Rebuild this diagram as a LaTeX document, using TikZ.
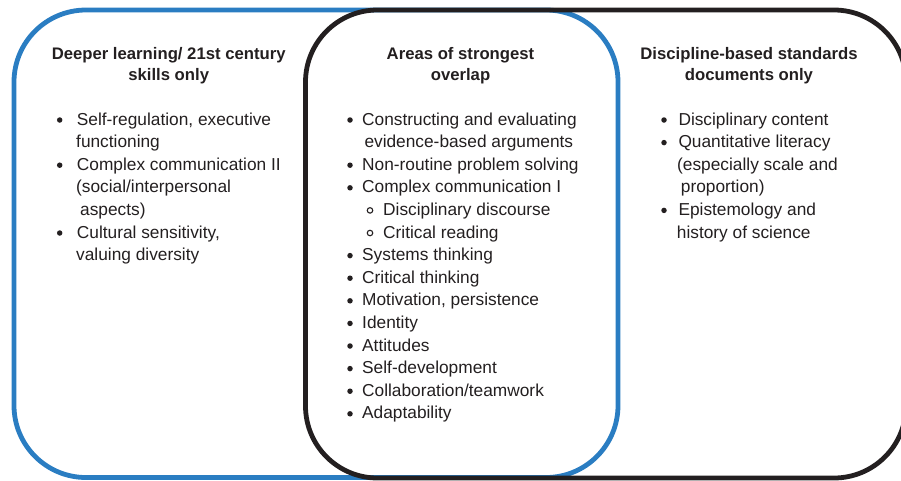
\documentclass[tikz,border=0pt]{standalone}
\usepackage{fontspec}
\setmainfont{Liberation Sans}
\usepackage{tikz}
\usetikzlibrary{calc}

\definecolor{deepblue}{HTML}{2A7DC2}
\definecolor{inkblack}{HTML}{231F20}

\tikzstyle{area} = [line width=4.8pt, rounded corners=72pt]
\tikzstyle{heading} = [anchor=base, align=center, inner sep=0pt, text=inkblack,
    font=\fontsize{16.7}{21}\selectfont\bfseries]
\tikzstyle{item} = [anchor=base west, inner sep=0pt, text=inkblack,
    font=\fontsize{17.3}{22.6}\selectfont]
\tikzstyle{dot} = [circle, fill=inkblack, inner sep=0pt, minimum size=5.5pt]
\tikzstyle{ring} = [circle, draw=inkblack, line width=1.1pt, inner sep=0pt,
    minimum size=5.5pt]

\begin{document}
\begin{tikzpicture}[x=1pt, y=-1pt]

        \useasboundingbox (0,0) rectangle (901,480);
        \clip (0,0) rectangle (901,480);

        % the two areas
        \draw [area, deepblue] (14,10) rectangle (618,477.5);
        \draw [area, inkblack] (305.5,10) rectangle (906,478);

        % headings (base is the second line)
        \node (hleft) [heading] at (168.7,80)
            {Deeper learning/ 21st century\\skills only};
        \node (hmid) [heading] at (460.5,80)
            {Areas of strongest\\overlap};
        \node (hright) [heading] at (749,80)
            {Discipline-based standards\\documents only};

        % LEFT ====
        \foreach \row/\xx/\txt in {
            0/76.7/{Self-regulation, executive},
            1/76/{functioning},
            2/76.7/{Complex communication II},
            3/76/{(social/interpersonal},
            4/80/{aspects)},
            5/76.7/{Cultural sensitivity,},
            6/76/{valuing diversity}}
            \node (l\row) [item] at (\xx,{125+22.6*\row}) {\txt};

        \foreach \row in {0,2,5}
            \node (lb\row) [dot] at (59.7,{120+22.6*\row}) {};

        % MIDDLE ====
        \foreach \row/\xx/\txt in {
            0/362/{Constructing and evaluating},
            1/364.3/{evidence-based arguments},
            2/362/{Non-routine problem solving},
            3/362/{Complex communication I},
            4/383/{Disciplinary discourse},
            5/383/{Critical reading},
            6/362/{Systems thinking},
            7/362/{Critical thinking},
            8/362/{Motivation, persistence},
            9/362/{Identity},
            10/362/{Attitudes},
            11/362/{Self-development},
            12/362/{Collaboration/teamwork},
            13/362/{Adaptability}}
            \node (m\row) [item] at (\xx,{125+22.6*\row}) {\txt};

        \foreach \row in {0,2,3,6,7,...,13}
            \node (mb\row) [dot] at (350,{120+22.6*\row}) {};
        \foreach \row in {4,5}
            \node (mr\row) [ring] at (370,{120+22.6*\row}) {};

        % RIGHT ====
        \foreach \row/\xx/\txt in {
            0/678.3/{Disciplinary content},
            1/678.3/{Quantitative literacy},
            2/677/{(especially scale and},
            3/680.7/{proportion)},
            4/678.3/{Epistemology and},
            5/676.7/{history of science}}
            \node (r\row) [item] at (\xx,{125+22.6*\row}) {\txt};

        \foreach \row in {0,1,4}
            \node (rb\row) [dot] at (664,{120+22.6*\row}) {};

    \end{tikzpicture}
\end{document}
